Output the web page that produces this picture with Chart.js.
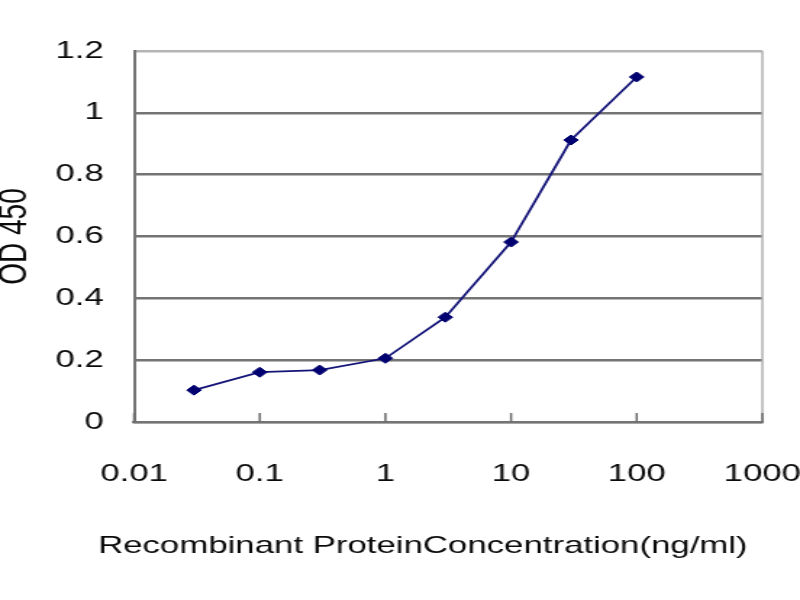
<!DOCTYPE html>
<html>
<head>
<meta charset="utf-8">
<script src="https://cdn.jsdelivr.net/npm/chart.js@4/dist/chart.umd.min.js"></script>
<style>
  html, body { margin: 0; padding: 0; background: #fff; overflow: hidden; }
  #wrap { position: absolute; left: 0; top: 0; width: 552px; height: 600px; transform: scaleX(1.4493); transform-origin: 0 0; }
  #c { display: block; }
</style>
</head>
<body>
<div id="wrap"><canvas id="c" width="552" height="600"></canvas></div>
<script>
const concentrations = [0.03, 0.1, 0.3, 1, 3, 10, 30, 100];
const odValues = [0.103, 0.161, 0.168, 0.206, 0.339, 0.582, 0.912, 1.116];
const xTickValues = [0.01, 0.1, 1, 10, 100, 1000];
const xTickLabels = ['0.01', '0.1', '1', '10', '100', '1000'];
const yTickLabels = ['0', '0.2', '0.4', '0.6', '0.8', '1', '1.2'];
const xTitle = 'Recombinant ProteinConcentration(ng/ml)';
const yTitle = 'OD 450';

const FONT = "'Liberation Sans', Arial, sans-serif";
const TEXT = '#0a0a0a';

const framePlugin = {
  id: 'frame',
  afterDraw(chart) {
    const {ctx, chartArea} = chart;
    const xs = chart.scales.x;
    ctx.save();
    // right border
    ctx.strokeStyle = '#b0b0b0';
    ctx.lineWidth = 1.5;
    ctx.beginPath();
    ctx.moveTo(chartArea.right, chartArea.top);
    ctx.lineTo(chartArea.right, chartArea.bottom);
    ctx.stroke();
    // inner tick marks on the x axis
    ctx.strokeStyle = '#6a6a6a';
    ctx.lineWidth = 1.5;
    xs.ticks.forEach(t => {
      const px = xs.getPixelForValue(t.value);
      ctx.beginPath();
      ctx.moveTo(px, chartArea.bottom);
      ctx.lineTo(px, chartArea.bottom - 9);
      ctx.stroke();
    });
    // x axis title (drawn here so it is not squeezed to the plot width)
    ctx.fillStyle = TEXT;
    ctx.font = "24px " + FONT;
    ctx.textAlign = 'center';
    ctx.textBaseline = 'alphabetic';
    ctx.fillText(xTitle, (chartArea.left + chartArea.right) / 2 - 17.5, 553);
    ctx.restore();
  }
};

new Chart(document.getElementById('c'), {
  type: 'line',
  data: {
    datasets: [{
      data: concentrations.map((c, i) => ({x: c, y: odValues[i]})),
      borderColor: '#141478',
      borderWidth: 1.8,
      backgroundColor: '#000070',
      pointBackgroundColor: '#000070',
      pointBorderColor: '#000070',
      pointStyle: 'rectRot',
      pointRadius: 5,
      pointBorderWidth: 1,
      tension: 0,
      fill: false
    }]
  },
  options: {
    responsive: false,
    maintainAspectRatio: false,
    devicePixelRatio: 1,
    animation: false,
    events: [],
    layout: { padding: { left: 0, right: 26, top: 51, bottom: 0 } },
    plugins: { legend: { display: false }, tooltip: { enabled: false } },
    scales: {
      x: {
        type: 'logarithmic',
        min: 0.01,
        max: 1000,
        afterBuildTicks: (axis) => { axis.ticks = xTickValues.map(v => ({value: v})); },
        afterFit: (axis) => { axis.height = 178; axis.paddingLeft = 0; axis.paddingRight = 0; },
        ticks: {
          autoSkip: false,
          maxRotation: 0,
          padding: 38,
          color: TEXT,
          font: { family: FONT, size: 24 },
          callback: (v, i) => xTickLabels[i]
        },
        grid: { display: false, drawTicks: false },
        border: { display: true, color: '#747474', width: 2.2 },
        title: { display: false }
      },
      y: {
        min: 0,
        max: 1.2,
        afterFit: (axis) => { axis.width = 92.5; },
        ticks: {
          stepSize: 0.2,
          padding: 21,
          color: TEXT,
          font: { family: FONT, size: 24 },
          callback: (v, i) => yTickLabels[i]
        },
        grid: {
          drawTicks: false,
          color: (ctx) => (ctx.tick && Math.abs(ctx.tick.value - 1.2) < 1e-6) ? '#b4b4b4' : '#747474',
          lineWidth: 2.5
        },
        border: { display: true, color: '#747474', width: 2 },
        title: {
          display: true,
          text: yTitle,
          color: TEXT,
          font: { family: FONT, size: 28, lineHeight: 0.75 },
          padding: 0
        }
      }
    }
  },
  plugins: [framePlugin]
});
</script>
</body>
</html>
